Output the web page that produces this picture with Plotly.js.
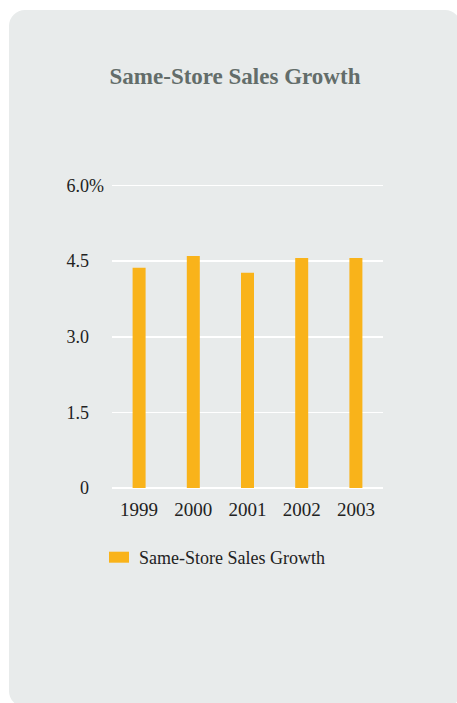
<!DOCTYPE html>
<html>
<head>
<meta charset="utf-8">
<script src="https://cdn.plot.ly/plotly-3.0.1.min.js"></script>
<style>
  html, body { margin: 0; padding: 0; background: #ffffff; width: 457px; height: 703px; overflow: hidden; }
  #card { position: absolute; left: 9px; top: 10px; width: 452px; height: 697px; background: #e8ebeb; border-radius: 16px; }
  #chart { position: absolute; left: 0; top: 0; width: 457px; height: 703px; }
</style>
</head>
<body>
<div id="card"></div>
<div id="chart"></div>
<script>
const years = ['1999', '2000', '2001', '2002', '2003'];
const salesGrowth = [4.37, 4.60, 4.27, 4.56, 4.56];
const seriesName = 'Same-Store Sales Growth';
const chartTitle = 'Same-Store Sales Growth';
const yTickVals = [0, 1.5, 3.0, 4.5, 6.0];
const yTickLabels = ['0', '1.5', '3.0', '4.5', '6.0%'];

const FONT = '"Liberation Serif", "Times New Roman", serif';
const ticktext = yTickLabels.map(function (t) {
  return t.endsWith('%') ? t : t + '<span style="color:rgba(0,0,0,0)">%</span>';
});

const trace = {
  type: 'bar',
  x: years,
  y: salesGrowth,
  name: seriesName,
  marker: { color: '#f9b31a' },
  showlegend: true,
  hoverinfo: 'none'
};

const layout = {
  width: 457,
  height: 703,
  paper_bgcolor: 'rgba(0,0,0,0)',
  plot_bgcolor: 'rgba(0,0,0,0)',
  margin: { l: 112, r: 74, t: 184, b: 214.7 },
  bargap: 0.76,
  font: { family: FONT, size: 18, color: '#222222' },
  title: {
    text: '<b>' + chartTitle + '</b>',
    font: { family: FONT, size: 23, color: '#636d6a' },
    x: 235 / 457, xanchor: 'center', xref: 'container',
    y: 1 - 76 / 703, yanchor: 'middle', yref: 'container'
  },
  xaxis: {
    type: 'category',
    showgrid: false,
    zeroline: false,
    showline: false,
    ticks: '',
    ticklabelstandoff: 8,
    tickfont: { family: FONT, size: 19, color: '#222222' }
  },
  yaxis: {
    range: [0, 6.03],
    tickvals: yTickVals,
    ticktext: ticktext,
    showgrid: true,
    gridcolor: '#ffffff',
    gridwidth: 1.5,
    zeroline: true,
    zerolinecolor: '#ffffff',
    zerolinewidth: 1.5,
    showline: false,
    ticks: '',
    ticklabelstandoff: 7,
    tickfont: { family: FONT, size: 18, color: '#222222' }
  },
  showlegend: true,
  legend: {
    orientation: 'h',
    xref: 'container', yref: 'container',
    x: 99 / 457, xanchor: 'left',
    y: 1 - 539 / 703, yanchor: 'top',
    bgcolor: 'rgba(0,0,0,0)',
    borderwidth: 0,
    font: { family: FONT, size: 18, color: '#222222' }
  }
};

Plotly.newPlot('chart', [trace], layout, { staticPlot: true, displayModeBar: false }).then(function (gd) {
  var paths = gd.querySelectorAll('.legend path.legendbar, .legend .legendpoints path');
  paths.forEach(function (p) { p.setAttribute('d', 'M10,5.5H-10V-5.5H10Z'); });
});
</script>
</body>
</html>
